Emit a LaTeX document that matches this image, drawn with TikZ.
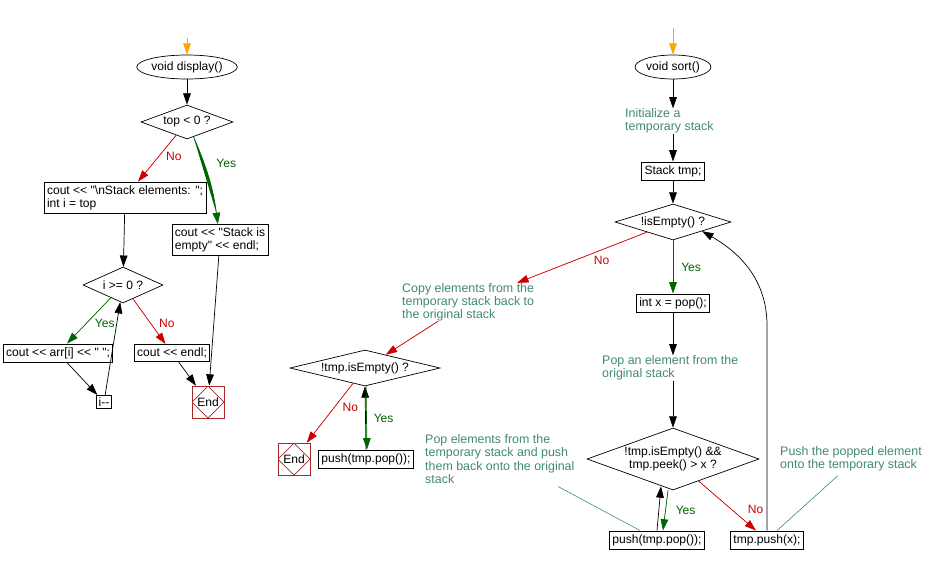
\documentclass[tikz,border=0pt]{standalone}
\usepackage{fontspec}
\setmainfont[Ligatures=TeXOff]{Liberation Sans}
\usetikzlibrary{positioning, arrows.meta, calc, shapes.geometric}
\definecolor{noteteal}{RGB}{64,138,106}
\definecolor{yesgreen}{RGB}{0,100,0}
\definecolor{nored}{RGB}{204,0,0}
\definecolor{startorange}{RGB}{255,165,0}
\definecolor{endred}{RGB}{170,40,40}
\newdimen\px \px=0.3mm
\tikzset{
  codefont/.style={font=\fontsize{10.3}{11}\selectfont},
  entry/.style={ellipse, draw, line width=0.6pt, inner sep=0pt, minimum height=24\px, codefont},
  stmt/.style={rectangle, draw, line width=0.6pt, inner xsep=2.5pt, inner ysep=3pt, align=left, codefont},
  cond/.style={diamond, draw, line width=0.6pt, inner sep=0pt, align=center, codefont},
  remark/.style={align=left, text=noteteal, inner sep=0pt, font=\fontsize{10.6}{11.2}\selectfont},
  stop/.style={rectangle, draw=endred, line width=0.6pt, minimum size=32\px, inner sep=0pt, codefont,
    path picture={\draw[endred, line width=0.6pt] (path picture bounding box.north) -- (path picture bounding box.east)
      -- (path picture bounding box.south) -- (path picture bounding box.west) -- cycle;}},
  link/.style={draw, -{Triangle[length=3.4mm,width=2.3mm]}, line width=0.6pt},
  yes/.style={link, draw=yesgreen, fill=yesgreen},
  no/.style={link, draw=nored, fill=nored},
  startarrow/.style={link, draw=startorange, fill=startorange},
  hint/.style={draw=noteteal, line width=0.5pt},
  yeslabel/.style={text=yesgreen, codefont},
  nolabel/.style={text=nored, codefont},
}
\begin{document}
\begin{tikzpicture}[x=1\px, y=-1\px]
  \useasboundingbox (0,0) rectangle (934,564);

  % display()
  \coordinate (in1) at (187,38);
  \node[entry, minimum width=90\px] (display) at (187,67) {void display()};
  \node[cond, aspect=2.7, minimum width=92\px, minimum height=34\px] (cmp1) at (187,122) {top < 0 ?};
  \node[stmt] (showmsg) at (125,197.5) {cout << "\textbackslash nStack elements: ";\\int i = top};
  \node[stmt] (emptymsg) at (220,240) {cout << "Stack is\\empty" << endl;};
  \node[cond, aspect=2.2, minimum width=80\px, minimum height=36\px] (cmp2) at (123,285) {i >= 0 ?};
  \node[stmt] (printelem) at (58,353) {cout << arr[i] << " ";};
  \node[stmt] (newline) at (172,353) {cout << endl;};
  \node[stmt, inner sep=2pt] (dec) at (104,402) {i--};
  \node[stop] (end1) at (208,402) {End};

  \draw[startarrow] (in1) -- (display);
  \draw[link] (display) -- (cmp1);
  \draw[no] (cmp1) -- node[nolabel, right=3\px, pos=0.45] {No} (showmsg);
  \draw[yes] (cmp1) to[bend left=8] node[yeslabel, right=8\px, pos=0.3] {Yes} (emptymsg);
  \draw[link] (showmsg) -- (cmp2);
  \draw[yes] (cmp2) -- node[yeslabel, right=4\px, pos=0.55] {Yes} (printelem);
  \draw[no] (cmp2) -- node[nolabel, right=4\px, pos=0.55] {No} (newline);
  \draw[link] (printelem) -- (dec);
  \draw[link] (dec) -- (cmp2);
  \draw[link] (newline) -- (end1);
  \draw[link] (emptymsg) -- (end1);

  % sort()
  \coordinate (in2) at (673,28);
  \node[entry, minimum width=70\px] (sort) at (673,67) {void sort()};
  \node[remark, anchor=west] (init) at (625,121) {Initialize a\\temporary stack};
  \node[stmt] (stacktmp) at (673,171) {Stack tmp;};
  \node[cond, aspect=3.2, minimum width=116\px, minimum height=36\px] (isempty) at (673,222) {!isEmpty() ?};
  \node[stmt] (intx) at (673,303) {int x = pop();};
  \node[remark, anchor=west] (popnote) at (602,368) {Pop an element from the\\original stack};
  \node[cond, aspect=2.8, minimum width=172\px, minimum height=62\px] (cmp5) at (673,459) {!tmp.isEmpty() \&\&\\tmp.peek() > x ?};
  \node[stmt] (push2) at (657,540) {push(tmp.pop());};
  \node[stmt] (tmppush) at (767,540) {tmp.push(x);};
  \node[remark, anchor=west] (pushnote) at (780,459) {Push the popped element\\onto the temporary stack};

  % copy back
  \node[remark, anchor=west] (copynote) at (402,302) {Copy elements from the\\temporary stack back to\\the original stack};
  \node[cond, aspect=4.2, minimum width=150\px, minimum height=36\px] (cmp3) at (365,368) {!tmp.isEmpty() ?};
  \node[stop] (end2) at (294,459) {End};
  \node[stmt] (push1) at (366,459) {push(tmp.pop());};
  \node[remark, anchor=west] (popback) at (425,459) {Pop elements from the\\temporary stack and push\\them back onto the original\\stack};

  \draw[startarrow] (in2) -- (sort);
  \draw[link] (sort) -- (sort |- init.north);
  \draw[link] (init.south -| sort) -- (stacktmp);
  \draw[link] (stacktmp) -- (isempty);
  \draw[yes] (isempty) -- node[yeslabel, right=4\px] {Yes} (intx);
  \draw[no] (isempty) -- node[nolabel, below=2\px, pos=0.35] {No} (copynote);
  \draw[link] (intx) -- (intx |- popnote.north);
  \draw[link] (popnote.south -| intx) -- (cmp5);
  \draw[link] (push2.north) -- ($(cmp5.south)+(-12,-4)$);
  \draw[yes] ($(cmp5.south)+(-5,0)$) -- node[yeslabel, right=6\px] {Yes} ($(push2.north)+(6,0)$);
  \draw[no] (cmp5) -- node[nolabel, above right=0\px and 2\px, pos=0.75] {No} (tmppush);
  \draw[link] (tmppush.north) -- ++(0,-205) to[out=90, in=-30] (isempty.south east);
  \draw[hint] ($(popback.south west)+(133,3)$) -- ($(push2.north)+(-17,0)$);
  \draw[hint] ($(pushnote.south west)+(58,4)$) -- ($(tmppush.north)+(10,0)$);

  \draw[no] (copynote) -- (cmp3);
  \draw[no] (cmp3) -- node[nolabel, right=4\px, pos=0.4] {No} (end2);
  \draw[link] (push1.north) -- (cmp3.south);
  \draw[yes] ($(cmp3.south)+(1,0)$) -- node[yeslabel, right=3\px] {Yes} ($(push1.north)+(1,0)$);
\end{tikzpicture}
\end{document}
